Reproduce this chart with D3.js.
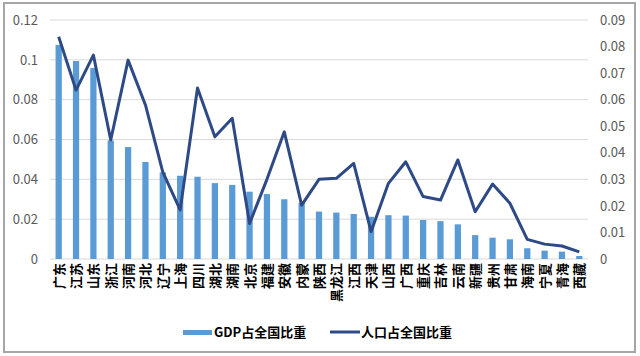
<!DOCTYPE html>
<html><head><meta charset="utf-8">
<script src="https://cdn.jsdelivr.net/npm/d3@7"></script>
<style>body{margin:0;background:#fff}svg{display:block}</style>
</head><body><svg id="c" width="640" height="356"></svg>
<script>
const categories = ["广东","江苏","山东","浙江","河南","河北","辽宁","上海","四川","湖北","湖南","北京","福建","安徽","内蒙","陕西","黑龙江","江西","天津","山西","广西","重庆","吉林","云南","新疆","贵州","甘肃","海南","宁夏","青海","西藏"];
const gdpShare = [0.1075,0.0994,0.0959,0.0595,0.0562,0.0487,0.0435,0.0418,0.0413,0.0381,0.0372,0.0338,0.0326,0.0300,0.0282,0.0238,0.0233,0.0226,0.0212,0.0220,0.0218,0.0196,0.0190,0.0174,0.0120,0.0107,0.0099,0.0054,0.0042,0.0037,0.0015];
const popShare = [0.0837,0.0636,0.0768,0.0448,0.0749,0.0580,0.0327,0.0185,0.0644,0.0460,0.0530,0.0134,0.0300,0.0479,0.0203,0.0300,0.0304,0.0360,0.0103,0.0285,0.0366,0.0235,0.0222,0.0373,0.0178,0.0282,0.0210,0.0074,0.0056,0.0049,0.0027];
const leftTicks = [0,0.02,0.04,0.06,0.08,0.1,0.12];
const rightTicks = [0,0.01,0.02,0.03,0.04,0.05,0.06,0.07,0.08,0.09];
const seriesNames = ["GDP占全国比重","人口占全国比重"];

const svg = d3.select("#c");
const font = "'Microsoft YaHei','Noto Sans CJK SC','DejaVu Sans',sans-serif";
const m = {l:50, r:588, t:20, b:259};
svg.append("rect").attr("x",4).attr("y",3).attr("width",631).attr("height",349)
  .attr("fill","#fff").attr("stroke","#a6a6a6").attr("stroke-width",2);

const x = d3.scaleBand().domain(categories).range([m.l,m.r]).paddingInner(0.64).paddingOuter(0.32);
const yL = d3.scaleLinear().domain([0,0.12]).range([m.b,m.t]);
const yR = d3.scaleLinear().domain([0,0.09]).range([m.b,m.t]);

// grid
svg.append("g").selectAll("line").data(leftTicks).join("line")
  .attr("x1",m.l).attr("x2",m.r).attr("y1",d=>yL(d)).attr("y2",d=>yL(d))
  .attr("stroke","#d9d9d9").attr("stroke-width",1);

// left axis
const la = svg.append("g").attr("transform",`translate(${m.l},0)`)
  .call(d3.axisLeft(yL).tickValues(leftTicks).tickSize(0).tickPadding(12).tickFormat(d=>d3.format("")(+d.toFixed(2))));
la.select(".domain").remove();
la.selectAll("text").attr("fill","#595959").style("font-size","13px").style("font-family",font);

// right axis
const ra = svg.append("g").attr("transform",`translate(${m.r},0)`)
  .call(d3.axisRight(yR).tickValues(rightTicks).tickSize(0).tickPadding(12).tickFormat(d=>d3.format("")(+d.toFixed(2))));
ra.select(".domain").remove();
ra.selectAll("text").attr("fill","#595959").style("font-size","13px").style("font-family",font);

// bars
svg.append("g").selectAll("rect").data(categories).join("rect")
  .attr("x",d=>x(d)).attr("width",x.bandwidth())
  .attr("y",(d,i)=>yL(gdpShare[i])).attr("height",(d,i)=>yL(0)-yL(gdpShare[i]))
  .attr("fill","#5b9bd5");

// line
const line = d3.line().x((d,i)=>x(categories[i])+x.bandwidth()/2).y(d=>yR(d));
svg.append("path").datum(popShare).attr("d",line).attr("fill","none")
  .attr("stroke","#2e4a86").attr("stroke-width",3).attr("stroke-linejoin","round");

// category labels (rotated)
svg.append("g").selectAll("text").data(categories).join("text")
  .attr("transform",d=>`translate(${x(d)+x.bandwidth()/2+5},263) rotate(-90)`)
  .attr("text-anchor","end").attr("fill","#000").style("font-size","13px")
  .style("font-weight","bold").style("font-family",font).text(d=>d);

// legend
const lg = svg.append("g");
lg.append("rect").attr("x",183).attr("y",330).attr("width",29).attr("height",5).attr("fill","#5b9bd5");
lg.append("text").attr("x",214).attr("y",337).text(seriesNames[0]).attr("fill","#000")
  .style("font-size","13px").style("font-weight","bold").style("font-family",font);
lg.append("line").attr("x1",330).attr("x2",360).attr("y1",332).attr("y2",332).attr("stroke","#2e4a86").attr("stroke-width",3);
lg.append("text").attr("x",361).attr("y",337).text(seriesNames[1]).attr("fill","#000")
  .style("font-size","13px").style("font-weight","bold").style("font-family",font);
</script></body></html>
